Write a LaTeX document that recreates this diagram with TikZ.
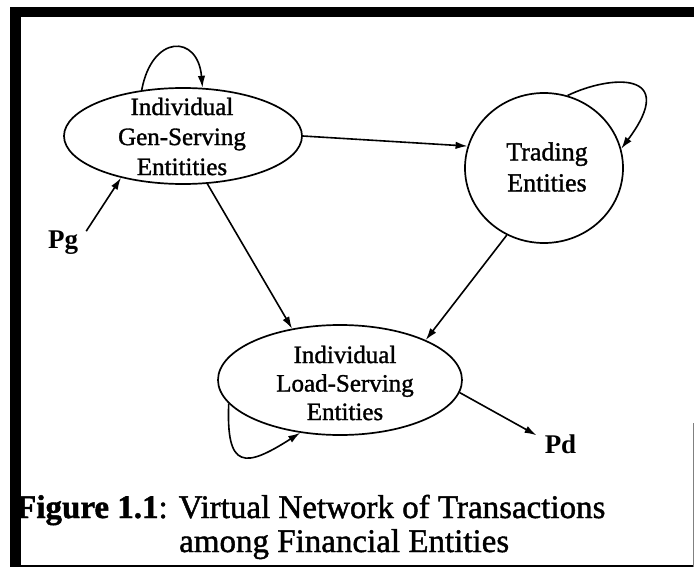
\documentclass[tikz,border=0pt]{standalone}
\usepackage{fontspec}
\setmainfont{Liberation Serif}
\newfontfamily\scanfont[FakeBold=1.3]{Liberation Serif}
\usetikzlibrary{shapes.geometric,arrows.meta}
\begin{document}
\begin{tikzpicture}[x=1pt,y=-1pt,
  ent/.style={draw,ellipse,line width=1.7pt,inner sep=0pt},
  lbl/.style={align=center,inner sep=0pt,font=\scanfont\fontsize{25}{30}\selectfont},
  arr/.style={line width=1.6pt,-{Latex[length=12pt,width=7.5pt]}},
  term/.style={inner sep=8pt,font=\fontsize{27}{30}\selectfont\bfseries},
  capt/.style={anchor=base west,inner sep=0pt,font=\scanfont\fontsize{33}{33}\selectfont}]
\useasboundingbox (0,0) rectangle (694,570);
% frame
\fill (10,7) rectangle (694,17);
\fill (10,7) rectangle (21,567);
\fill (10,565) rectangle (694,567);
\draw[line width=1pt,gray] (693,423) -- (693,567);
% entities
\node[ent,minimum width=238pt,minimum height=96pt] (gen) at (183,136) {};
\node[lbl] (gent) at (182,136.5) {Individual\\Gen-Serving\\Entitities};
\node[ent,minimum width=158pt,minimum height=150pt] (trd) at (544,168) {};
\node[lbl,font=\scanfont\fontsize{26}{31}\selectfont] (trdt) at (547,167) {Trading\\Entities};
\node[ent,minimum width=244pt,minimum height=110pt] (load) at (340,380) {};
\node[lbl,font=\scanfont\fontsize{25}{28.5}\selectfont] (loadt) at (345,383) {Individual\\Load-Serving\\Entities};
% terminals
\node[term] (pg) at (63,243) {Pg};
\node[term] (pd) at (560.5,444) {Pd};
% connectors
\draw[arr] (pg.27) -- (gen.214);
\draw[arr] (gen.east) -- (trd.164);
\draw[arr] (gen.-63) -- (load.133);
\draw[arr] (trd.-119) -- (load.25);
\draw[arr] (load.-6) -- (pd.160);
% self loops
\draw[arr] (gen.132) .. controls (152,34) and (198,34) .. (gen.68);
\draw[arr] (trd.72) .. controls (610,75) and (680,70) .. (trd.14);
\draw[arr] (load.192) .. controls (226,470) and (245,468) .. (load.233);
% caption
\node[capt] (cap1) at (16,518) {\textbf{Figure 1.1}: Virtual Network of Transactions};
\node[capt] (cap2) at (179,552) {among Financial Entities};
\end{tikzpicture}
\end{document}
